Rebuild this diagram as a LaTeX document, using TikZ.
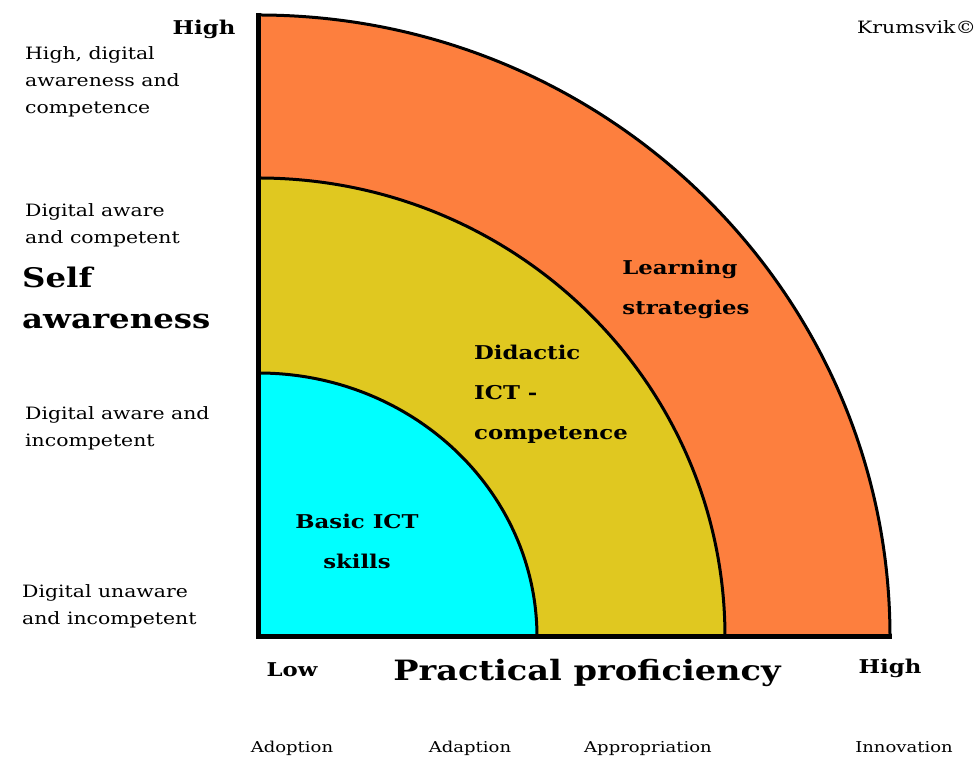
\documentclass[tikz,border=0pt]{standalone}
\usepackage{fontspec}
\setmainfont[FakeStretch=1.2]{DejaVu Serif}
\usepackage{amsmath, amssymb}
\definecolor{learnorange}{RGB}{253,127,62}
\definecolor{didacticyellow}{RGB}{224,200,32}
\definecolor{basiccyan}{RGB}{0,255,255}
\begin{document}
\begin{tikzpicture}[x=1pt,y=1pt,
    lvl/.style={font=\fontsize{17}{27}\selectfont, align=left, anchor=north west, inner sep=0pt},
    tag/.style={font=\bfseries\fontsize{19}{20}\selectfont, inner sep=0pt},
    zone/.style={font=\bfseries\fontsize{19}{40}\selectfont, align=left, inner sep=0pt},
    stage/.style={font=\fontsize{15}{16}\selectfont, anchor=base, inner sep=0pt}]
      \useasboundingbox (0,0) rectangle (977,759);
      \fill [white] (0,0) rectangle (977,759);
      \coordinate (o) at (258,122);
      \fill [learnorange] (o) -- (258,744) arc [start angle=90, end angle=0, x radius=632, y radius=622] -- cycle;
      \fill [didacticyellow] (o) -- (258,581) arc [start angle=90, end angle=0, x radius=467, y radius=459] -- cycle;
      \fill [basiccyan] (o) -- (258,386) arc [start angle=90, end angle=0, x radius=279, y radius=264] -- cycle;
      \draw [line width=3] (258,744) arc [start angle=90, end angle=0, x radius=632, y radius=622];
      \draw [line width=3] (258,581) arc [start angle=90, end angle=0, x radius=467, y radius=459];
      \draw [line width=3] (258,386) arc [start angle=90, end angle=0, x radius=279, y radius=264];
      \coordinate (ytop) at (258,746);
      \coordinate (xend) at (892,122);
      \draw [line width=5] (ytop) -- (o) -- (xend);
      % axis labels
      \node [tag] (yhigh) at (204,730) {High};
      \node [tag] (xlow) at (292,89) {Low};
      \node [tag] (xhigh) at (890,91) {High};
      \node [font=\bfseries\fontsize{28}{30}\selectfont, inner sep=0pt] (xname) at (587,86) {Practical proficiency};
      \node [font=\bfseries\fontsize{27}{41}\selectfont, align=left, anchor=north west, inner sep=0pt] (yname) at (22,492) {Self\\awareness};
      \node [font=\fontsize{17}{18}\selectfont, anchor=west, inner sep=0pt] (copy) at (857,732) {Krumsvik©};
      % levels of self awareness
      \node [lvl] (lvlfour) at (25,713) {High, digital\\awareness and\\competence};
      \node [lvl] (lvlthree) at (25,556) {Digital aware\\and competent};
      \node [lvl] (lvltwo) at (25,353) {Digital aware and\\incompetent};
      \node [lvl] (lvlone) at (22,175) {Digital unaware\\and incompetent};
      % zones
      \node [zone] (learn) at (686,470) {Learning\\strategies};
      \node [zone, font=\bfseries\fontsize{19}{40}\selectfont, anchor=north west] (didactic) at (474,414) {Didactic\\ICT -\\competence};
      \node [zone, align=center] (basic) at (357,218) {Basic ICT\\skills};
      % stages
      \node [stage] (adoption) at (292,6) {Adoption};
      \node [stage] (adaption) at (470,6) {Adaption};
      \node [stage] (appropriation) at (648,6) {Appropriation};
      \node [stage] (innovation) at (904,6) {Innovation};
    \end{tikzpicture}
\end{document}
